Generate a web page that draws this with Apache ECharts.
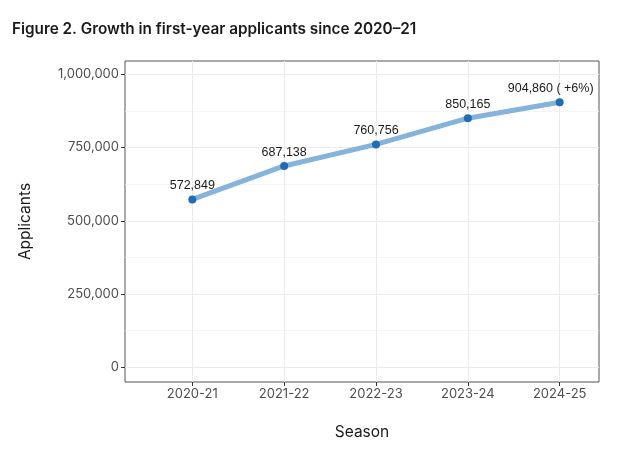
<!DOCTYPE html>
<html>
<head>
<meta charset="utf-8">
<script src="https://cdn.jsdelivr.net/npm/echarts@6/dist/echarts.min.js"></script>
<style>html,body{margin:0;padding:0;background:#fff}#c{width:620px;height:449px}</style>
</head>
<body>
<div id="c"></div>
<script>
const seasons = ['2020-21', '2021-22', '2022-23', '2023-24', '2024-25'];
const applicants = [572849, 687138, 760756, 850165, 904860];
const labelSuffix = ['', '', '', '', ' ( +6%)'];
const yTicks = [0, 250000, 500000, 750000, 1000000];
const yMinorTicks = [125000, 375000, 625000, 875000];

const fmt = v => v.toString().replace(/\B(?=(\d{3})+(?!\d))/g, ',');
const chart = echarts.init(document.getElementById('c'), null, {renderer: 'canvas'});
const data = seasons.map((s, i) => ({
  value: [i, applicants[i]],
  label: i === seasons.length - 1 ? {offset: [-9, 0]} : {}
}));
const yMin = -50200, yMax = 1045400;
chart.setOption({
  animation: false,
  backgroundColor: '#ffffff',
  title: {
    text: 'Figure 2. Growth in first-year applicants since 2020\u201321',
    left: 7, top: 17,
    textStyle: {fontFamily: 'Inter', fontWeight: 600, fontSize: 15.3, color: '#1a1a1a'}
  },
  grid: {left: 125, right: 21, top: 61, bottom: 67, show: true, borderColor: '#555', borderWidth: 1, backgroundColor: 'transparent'},
  xAxis: {
    type: 'value', min: -0.733, max: 4.428,
    name: 'Season', nameLocation: 'middle', nameGap: 42,
    nameTextStyle: {fontFamily: 'Inter', fontSize: 15.5, color: '#1a1a1a'},
    axisLine: {show: false, onZero: false},
    axisTick: {show: true, customValues: [0, 1, 2, 3, 4], length: 4, lineStyle: {color: '#333'}},
    axisLabel: {customValues: [0, 1, 2, 3, 4], formatter: v => seasons[Math.round(v)], fontFamily: 'Inter', fontSize: 13, color: '#4d4d4d', margin: 6},
    splitLine: {show: true, lineStyle: {color: '#ebebeb', width: 1}}
  },
  yAxis: [{
    type: 'value', min: yMin, max: yMax,
    name: 'Applicants', nameLocation: 'middle', nameGap: 92,
    nameTextStyle: {fontFamily: 'Inter', fontSize: 15.5, color: '#1a1a1a'},
    axisLine: {show: false, onZero: false},
    axisTick: {show: true, customValues: yTicks, length: 4, lineStyle: {color: '#333'}},
    axisLabel: {customValues: yTicks, formatter: v => fmt(v), fontFamily: 'Inter', fontSize: 13, color: '#4d4d4d', margin: 6},
    splitLine: {show: true, lineStyle: {color: '#ebebeb', width: 1}}
  }, {
    type: 'value', min: yMin, max: yMax, position: 'left',
    axisLine: {show: false, onZero: false},
    axisTick: {show: false, customValues: yMinorTicks},
    axisLabel: {show: false, customValues: yMinorTicks},
    splitLine: {show: true, lineStyle: {color: '#f1f1f1', width: 0.7}}
  }],
  series: [{
    type: 'line',
    data: data,
    lineStyle: {color: '#84b3dc', width: 5},
    itemStyle: {color: '#1f6db7'},
    symbol: 'circle', symbolSize: 8,
    label: {show: true, position: 'top', distance: 3,
      formatter: p => fmt(applicants[p.dataIndex]) + labelSuffix[p.dataIndex],
      fontFamily: 'Liberation Sans', fontSize: 12.5, color: '#1a1a1a'},
    z: 3
  }]
});
</script>
</body>
</html>
